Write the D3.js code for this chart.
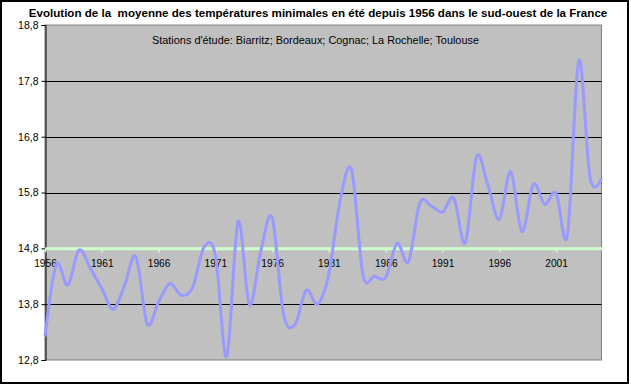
<!DOCTYPE html>
<html>
<head>
<meta charset="utf-8">
<script src="https://cdn.jsdelivr.net/npm/d3@7"></script>
<style>
  body { margin: 0; background: #fff; }
  svg text { font-family: Arial, "Liberation Sans", sans-serif; }
</style>
</head>
<body>
<svg id="chart" width="631" height="385"></svg>
<script>
// years shown on the category axis
const years = [1956, 1957, 1958, 1959, 1960, 1961, 1962, 1963, 1964, 1965,
               1966, 1967, 1968, 1969, 1970, 1971, 1972, 1973, 1974, 1975,
               1976, 1977, 1978, 1979, 1980, 1981, 1982, 1983, 1984, 1985,
               1986, 1987, 1988, 1989, 1990, 1991, 1992, 1993, 1994, 1995,
               1996, 1997, 1998, 1999, 2000, 2001, 2002, 2003, 2004, 2005]

// mean summer minimum temperature (°C)
const tmin = [13.22, 14.51, 14.14, 14.77, 14.44, 14.08, 13.71, 14.13, 14.65, 13.45,
              13.84, 14.17, 13.96, 14.10, 14.82, 14.68, 12.86, 15.28, 13.79, 14.75,
              15.35, 13.62, 13.43, 14.05, 13.80, 14.35, 15.67, 16.20, 14.32, 14.30,
              14.28, 14.89, 14.56, 15.61, 15.56, 15.45, 15.70, 14.90, 16.44, 15.93,
              15.32, 16.17, 15.10, 15.95, 15.59, 15.79, 15.04, 18.16, 16.06, 16.05]

const yearTicks = [1956, 1961, 1966, 1971, 1976, 1981, 1986, 1991, 1996, 2001]
const tempTicks = [12.8, 13.8, 14.8, 15.8, 16.8, 17.8, 18.8]
const average = 14.8

const titleText = "Evolution de la  moyenne des températures minimales en été depuis 1956 dans le sud-ouest de la France"
const noteText = "Stations d'étude: Biarritz; Bordeaux; Cognac; La Rochelle; Toulouse"

const plotLeft = 45, plotRight = 601.5, plotTop = 25, plotBottom = 360

const svg = d3.select('#chart')

// outer frame
svg.append('rect')
   .attr('x', 1).attr('y', 1)
   .attr('width', 627).attr('height', 382)
   .attr('fill', '#fff')
   .attr('stroke', '#000')
   .attr('stroke-width', 2)

let xScale = d3.scaleLinear().domain([years[0], years[years.length - 1]]).range([plotLeft, plotRight])
let yScale = d3.scaleLinear().domain([12.8, 18.8]).range([plotBottom, plotTop])

// plot area
svg.append('rect')
   .attr('x', plotLeft).attr('y', plotTop)
   .attr('width', plotRight - plotLeft).attr('height', plotBottom - plotTop)
   .attr('fill', '#c0c0c0')
   .attr('stroke', '#808080')
   .attr('stroke-width', 1)

// gridlines
svg.append('g')
   .selectAll('line')
   .data(tempTicks.filter(t => t > 12.8 && t < 18.8))
   .enter()
   .append('line')
   .attr('x1', plotLeft).attr('x2', plotRight)
   .attr('y1', t => Math.round(yScale(t)) + 0.5)
   .attr('y2', t => Math.round(yScale(t)) + 0.5)
   .attr('stroke', '#000')

// y axis
let yAxis = d3.axisLeft(yScale)
   .tickValues(tempTicks)
   .tickSize(4)
   .tickPadding(3)
   .tickFormat(t => d3.format('.1f')(t).replace('.', ','))

let gy = svg.append('g')
   .attr('transform', `translate(${plotLeft + 0.5}, 0)`)
   .call(yAxis)
gy.select('.domain').attr('stroke', '#000')
gy.selectAll('text').attr('font-size', 10.5).attr('fill', '#000').attr('font-family', 'Arial, "Liberation Sans", sans-serif')

// average line doubles as the category axis
let xAxis = d3.axisBottom(xScale)
   .tickValues(yearTicks)
   .tickSize(4)
   .tickPadding(7)
   .tickSizeOuter(0)
   .tickFormat(d3.format('d'))

let gx = svg.append('g')
   .attr('transform', `translate(0, ${yScale(average)})`)
   .call(xAxis)
gx.select('.domain').attr('stroke', '#ccffcc').attr('stroke-width', 3)
gx.selectAll('.tick line').attr('stroke', '#ccffcc').attr('stroke-width', 1.5)
gx.selectAll('text').attr('font-size', 10.2).attr('fill', '#000').attr('font-family', 'Arial, "Liberation Sans", sans-serif')

// temperature curve
let lineData = years.map((yr, i) => ({x: yr, y: tmin[i]}))

let line = d3.line()
   .x(dt => xScale(dt.x))
   .y(dt => yScale(dt.y))
   .curve(d3.curveCardinal.tension(0))

svg.append('path')
   .datum(lineData)
   .attr('d', line)
   .attr('fill', 'none')
   .attr('stroke', '#9999ff')
   .attr('stroke-width', 3)
   .attr('stroke-linejoin', 'round')

// texts
svg.append('text')
   .attr('x', 318).attr('y', 17)
   .attr('text-anchor', 'middle')
   .attr('font-size', 11.6)
   .attr('font-weight', 'bold')
   .style('white-space', 'pre')
   .text(titleText)

svg.append('text')
   .attr('x', 152).attr('y', 44)
   .attr('font-size', 10.9)
   .text(noteText)
</script>
</body>
</html>
